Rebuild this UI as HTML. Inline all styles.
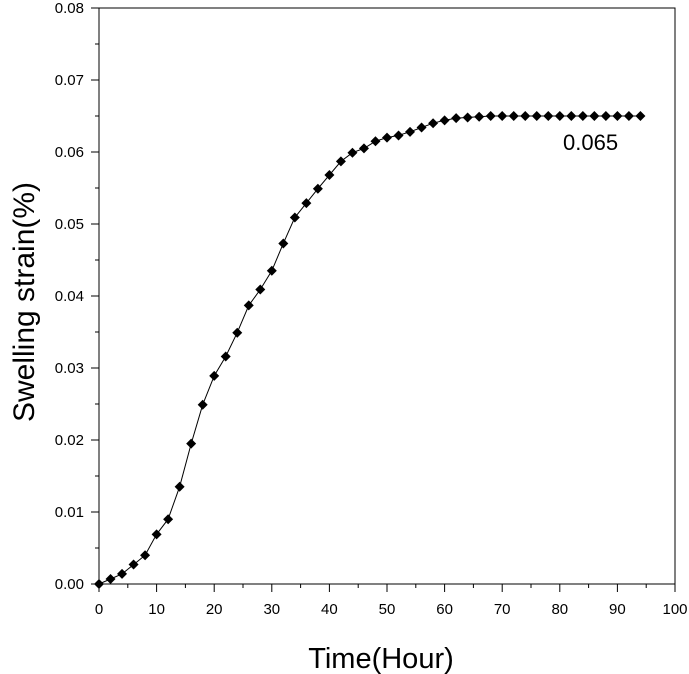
<!DOCTYPE html><html><head><style>body{margin:0;background:#fff}svg{display:block}text{font-family:"Liberation Sans",Arial,sans-serif}</style></head><body>
<svg id="s" width="689" height="674" xmlns="http://www.w3.org/2000/svg">
<rect x="99" y="8" width="576" height="576" fill="none" stroke="#000" stroke-width="1"/>
<g id="t" stroke="#000" stroke-width="1"></g>
<g id="l" font-size="15" fill="#000"></g>
<text x="381" y="668" font-size="29" text-anchor="middle">Time(Hour)</text>
<text transform="translate(34,302) rotate(-90)" font-size="30" text-anchor="middle">Swelling strain(%)</text>
<text x="563" y="150" font-size="22">0.065</text>
<path id="p" fill="none" stroke="#000" stroke-width="1"/>
<g id="m" fill="#000"></g>
</svg>
<script>
var X=function(v){return 99+v*5.76},Y=function(v){return 584-v*7200};
var t='',l='',ns='';
for(var i=0;i<=20;i++){var x=X(i*5),len=i%2?4:8;t+='<line x1="'+x+'" y1="584" x2="'+x+'" y2="'+(584+len)+'"/>';if(i%2==0)l+='<text x="'+x+'" y="614" text-anchor="middle">'+i*5+'</text>';}
for(var i=0;i<=16;i++){var y=Y(i*0.005),len=i%2?4:8;t+='<line x1="99" y1="'+y+'" x2="'+(99-len)+'" y2="'+y+'"/>';if(i%2==0)l+='<text x="84" y="'+(y+5)+'" text-anchor="end">'+(i*0.005).toFixed(2)+'</text>';}
document.getElementById('t').innerHTML=t;document.getElementById('l').innerHTML=l;
var d=[0,.0007,.0014,.0027,.004,.0069,.009,.0135,.0195,.0249,.0289,.0316,.0349,.0387,.0409,.0435,.0473,.0509,.0529,.0549,.0568,.0587,.0599,.0605,.0615,.062,.0623,.0628,.0634,.064,.0644,.0647,.0648,.0649,.065,.065,.065,.065,.065,.065,.065,.065,.065,.065,.065,.065,.065,.065];
var p='',m='';
d.forEach(function(v,i){var x=X(i*2),y=Y(v);p+=(i?'L':'M')+x.toFixed(1)+' '+y.toFixed(1);m+='<path d="M'+x+' '+(y-5)+'L'+(x+5)+' '+y+'L'+x+' '+(y+5)+'L'+(x-5)+' '+y+'Z"/>';});
document.getElementById('p').setAttribute('d',p);document.getElementById('m').innerHTML=m;
</script></body></html>
